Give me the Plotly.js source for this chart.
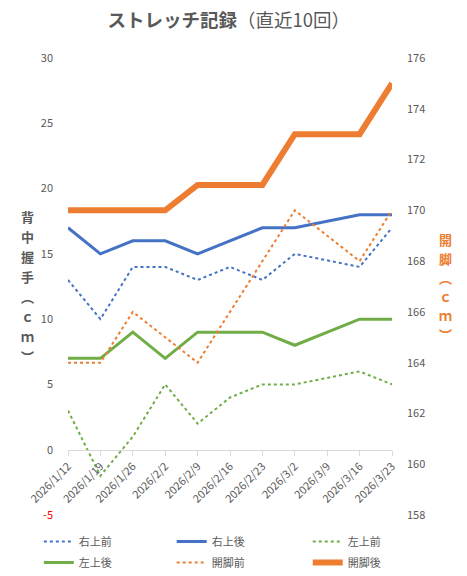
<!DOCTYPE html>
<html>
<head>
<meta charset="utf-8">
<script src="https://cdn.plot.ly/plotly-3.0.1.min.js"></script>
<style>
  html, body { margin: 0; padding: 0; background: #fff; }
  #graph { width: 467px; height: 576px; }
</style>
</head>
<body>
<div id="graph"></div>
<script>
// data (3/9 has no record)
var dates = ['2026/1/12', '2026/1/19', '2026/1/26', '2026/2/2', '2026/2/9', '2026/2/16',
             '2026/2/23', '2026/3/2', '2026/3/9', '2026/3/16', '2026/3/23'];
var rightBefore = [13, 10, 14, 14, 13, 14, 13, 15, null, 14, 17];
var rightAfter  = [17, 15, 16, 16, 15, 16, 17, 17, null, 18, 18];
var leftBefore  = [3, -2, 1, 5, 2, 4, 5, 5, null, 6, 5];
var leftAfter   = [7, 7, 9, 7, 9, 9, 9, 8, null, 10, 10];
var splitBefore = [164, 164, 166, 165, 164, 166, 168, 170, null, 168, 170];
var splitAfter  = [170, 170, 170, 170, 171, 171, 171, 173, null, 173, 175];

var leftTicks = [-5, 0, 5, 10, 15, 20, 25, 30];
var gridTicks = [5, 10, 15, 20, 25, 30];
var rightTicks = [158, 160, 162, 164, 166, 168, 170, 172, 174, 176];

var blue = '#4472C4', orange = '#ED7D31', green = '#70AD47';
var textCol = '#595959';
var leftRange = [-5, 30];

function createGraph() {
  const graph = document.querySelector('#graph');

  function line(name, y, color, width, dash, axis, leg) {
    return {
      x: dates, y: y, name: name, type: 'scatter', mode: 'lines',
      yaxis: axis, connectgaps: true, hoverinfo: 'skip',
      legend: leg, legendgroup: name,
      line: { color: color, width: width, dash: dash }
    };
  }

  // three legend columns so the two rows line up like the original
  var data = [
    line('右上前', rightBefore, blue, 2, 'dot', 'y', 'legend'),
    line('右上後', rightAfter, blue, 3, 'solid', 'y', 'legend2'),
    line('左上前', leftBefore, green, 2, 'dot', 'y', 'legend3'),
    line('左上後', leftAfter, green, 3, 'solid', 'y', 'legend'),
    line('開脚前', splitBefore, orange, 2, 'dot', 'y2', 'legend2'),
    line('開脚後', splitAfter, orange, 6, 'solid', 'y2', 'legend3')
  ];

  // vertical axis titles, one character per annotation
  function vtitle(chars, x, color, step) {
    var out = [];
    var mid = (chars.length - 1) / 2;
    chars.forEach(function (c, i) {
      out.push({
        text: '<b>' + c + '</b>', xref: 'paper', yref: 'paper', x: x, y: 0.5,
        yshift: (mid - i) * step, showarrow: false,
        font: { size: 13, color: color }
      });
    });
    return out;
  }

  var annotations = vtitle(['背', '中', '握', '手', '︵', 'ｃ', 'ｍ', '︶'], -0.15, textCol, 20)
    .concat(vtitle(['開', '脚', '︵', 'ｃ', 'ｍ', '︶'], 1.19, orange, 19));

  var leftText = leftTicks.map(function (v) {
    return v < 0 ? '<span style="color:#FF0000">' + v + '</span>' : String(v);
  });

  function legendAt(x) {
    return {
      orientation: 'v', x: x, xanchor: 'left', y: -0.026, yanchor: 'top',
      traceorder: 'grouped', tracegroupgap: 2, itemwidth: 30,
      bgcolor: 'rgba(0,0,0,0)',
      font: { size: 11, color: textCol }
    };
  }

  var layout = {
    width: 467,
    height: 576,
    margin: { l: 68, r: 75, t: 58, b: 61, autoexpand: false },
    paper_bgcolor: '#ffffff',
    plot_bgcolor: '#ffffff',
    font: { family: '"Noto Sans CJK JP", "Noto Sans", sans-serif', color: textCol, size: 11 },
    title: {
      text: '<b>ストレッチ記録</b>（直近10回）',
      x: 0.49, xanchor: 'center', y: 0.965, yanchor: 'middle',
      font: { size: 18.5, color: textCol }
    },
    showlegend: true,
    legend: legendAt(-0.09),
    legend2: legendAt(0.32),
    legend3: legendAt(0.74),
    xaxis: {
      type: 'category',
      range: [0, dates.length - 1],
      anchor: 'free',
      position: (0 - leftRange[0]) / (leftRange[1] - leftRange[0]),
      showline: true, linecolor: '#D9D9D9', linewidth: 1,
      ticks: 'outside', tickcolor: '#D9D9D9', ticklen: 5,
      tickangle: -45, showgrid: false, zeroline: false,
      tickfont: { size: 11, color: textCol },
      automargin: false
    },
    yaxis: {
      range: leftRange,
      tickvals: leftTicks, ticktext: leftText,
      showgrid: false, zeroline: false, showline: false,
      ticks: '', ticklabelstandoff: 14,
      tickfont: { size: 11, color: textCol },
      automargin: false
    },
    yaxis3: {
      range: leftRange, overlaying: 'y', side: 'left',
      tickvals: gridTicks, showticklabels: false,
      showgrid: true, gridcolor: '#595959', gridwidth: 1,
      zeroline: false, ticks: '', automargin: false
    },
    yaxis2: {
      range: [158, 176], overlaying: 'y', side: 'right',
      tickvals: rightTicks,
      showgrid: false, zeroline: false, showline: false,
      ticks: '', ticklabelstandoff: 14,
      tickfont: { size: 11, color: textCol },
      automargin: false
    },
    annotations: annotations
  };

  var config = {
    displayModeBar: false,
    staticPlot: true
  };

  Plotly.newPlot(graph, data, layout, config);
}

createGraph();
</script>
</body>
</html>
